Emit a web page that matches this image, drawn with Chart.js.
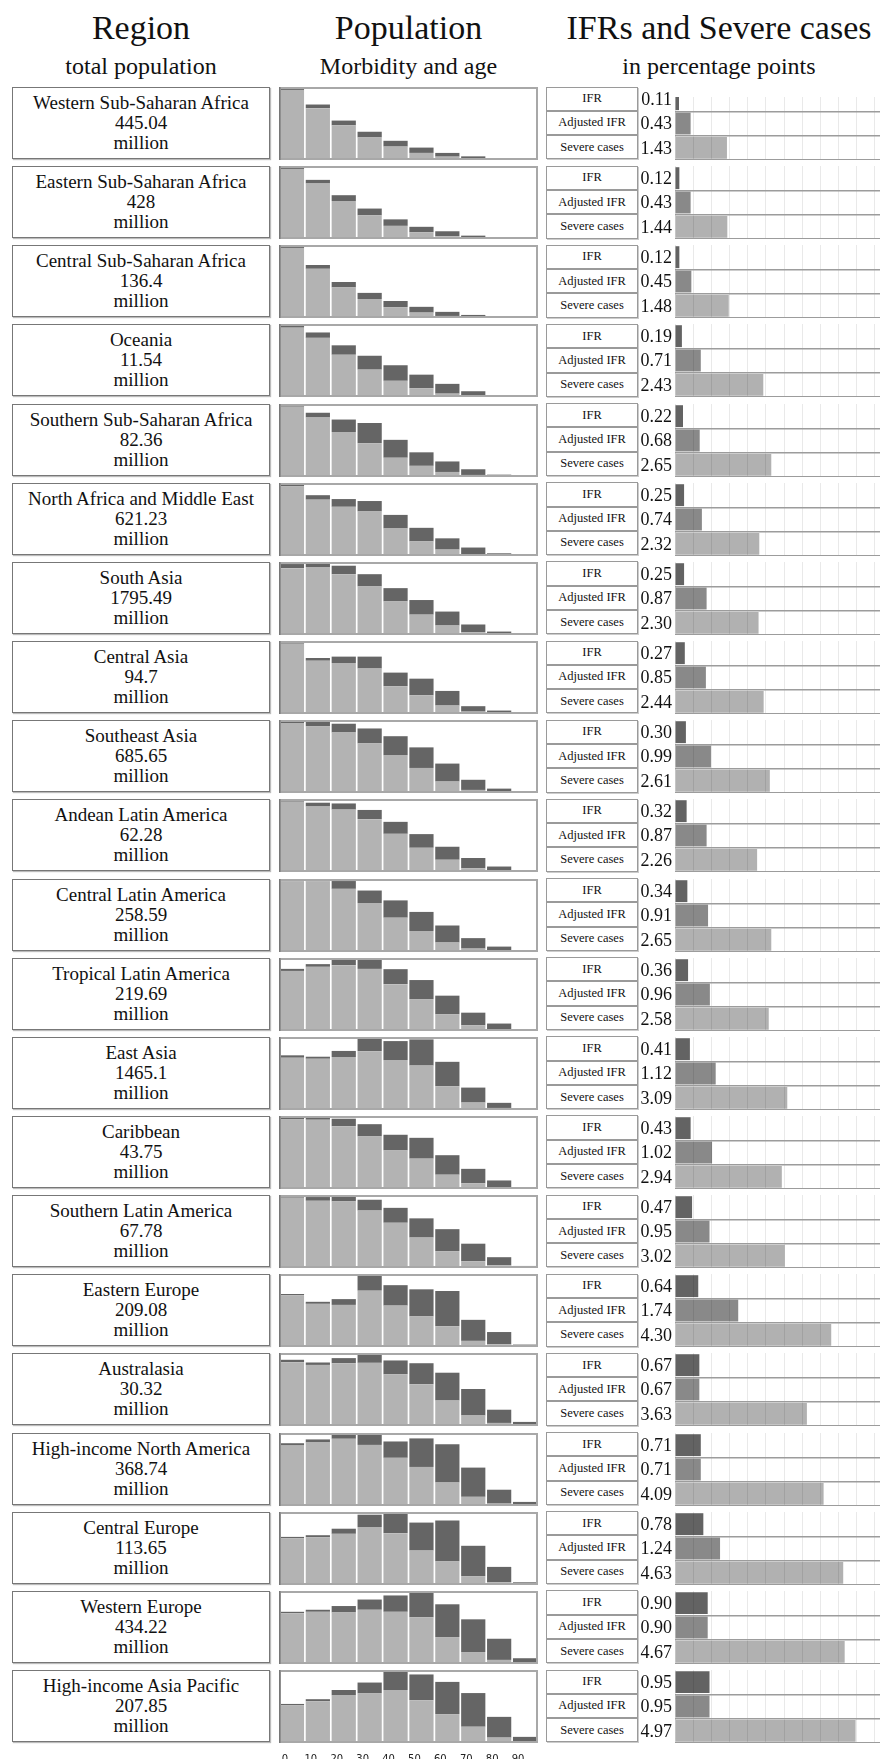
<!DOCTYPE html>
<html>
<head>
<meta charset="utf-8">
<script src="https://cdn.jsdelivr.net/npm/chart.js@4.4.1/dist/chart.umd.min.js"></script>
<style>
    html, body { margin: 0; padding: 0; background: #fff; overflow: hidden; }
    body { width: 880px; height: 1759px; position: relative; font-family: "Liberation Serif", "Times New Roman", serif; color: #111; }
    .head { position: absolute; text-align: center; white-space: nowrap; font-family: "Liberation Serif", serif; }
    .title { font-size: 34px; line-height: 40px; top: 8px; }
    .sub { font-size: 24px; line-height: 28px; top: 52px; }
    .region { position: absolute; left: 12px; width: 258px; height: 72px; box-sizing: border-box;
              border: 1px solid #777; box-shadow: 1px 1px 1px #bbb; display: flex; flex-direction: column;
              justify-content: center; align-items: center; font-size: 19px; line-height: 20px; }
    .pop, .ifr { position: absolute; }
    .labels { position: absolute; left: 546px; width: 92px; }
    .labels div { height: 24.3px; box-sizing: border-box; border: 1px solid #9a9a9a; box-shadow: 1px 1px 0 #ccc;
                  font-size: 12.5px; display: flex; align-items: center; justify-content: center; }
    .cover { position: absolute; left: 672px; top: 84px; width: 220px; height: 13px; background: #fff; z-index: 5; }
</style>
</head>
<body>
<div class="head title" style="left:12px;width:258px">Region</div>
<div class="head sub" style="left:12px;width:258px">total population</div>
<div class="head title" style="left:279px;width:259px">Population</div>
<div class="head sub" style="left:279px;width:259px">Morbidity and age</div>
<div class="head title" style="left:546px;width:346px">IFRs and Severe cases</div>
<div class="head sub" style="left:546px;width:346px">in percentage points</div>
<div class="cover"></div>
<script>
const regions = ['Western Sub-Saharan Africa', 'Eastern Sub-Saharan Africa', 'Central Sub-Saharan Africa', 'Oceania',
    'Southern Sub-Saharan Africa', 'North Africa and Middle East', 'South Asia', 'Central Asia', 'Southeast Asia',
    'Andean Latin America', 'Central Latin America', 'Tropical Latin America', 'East Asia', 'Caribbean',
    'Southern Latin America', 'Eastern Europe', 'Australasia', 'High-income North America', 'Central Europe',
    'Western Europe', 'High-income Asia Pacific'];
const totalPop = [445.04, 428, 136.4, 11.54, 82.36, 621.23, 1795.49, 94.7, 685.65, 62.28, 258.59, 219.69,
    1465.1, 43.75, 67.78, 209.08, 30.32, 368.74, 113.65, 434.22, 207.85];

const ifrLabels = ['IFR', 'Adjusted IFR', 'Severe cases'];
const ifr = [0.11, 0.12, 0.12, 0.19, 0.22, 0.25, 0.25, 0.27, 0.30, 0.32, 0.34, 0.36, 0.41, 0.43, 0.47, 0.64, 0.67, 0.71, 0.78, 0.90, 0.95];
const adjustedIfr = [0.43, 0.43, 0.45, 0.71, 0.68, 0.74, 0.87, 0.85, 0.99, 0.87, 0.91, 0.96, 1.12, 1.02, 0.95, 1.74, 0.67, 0.71, 1.24, 0.90, 0.95];
const severeCases = [1.43, 1.44, 1.48, 2.43, 2.65, 2.32, 2.30, 2.44, 2.61, 2.26, 2.65, 2.58, 3.09, 2.94, 3.02, 4.30, 3.63, 4.09, 4.63, 4.67, 4.97];

// age groups, bar heights in % of each panel's tallest bar
const ageLabels = ['0', '10', '20', '30', '40', '50', '60', '70', '80', '90'];
const healthyPop = [
    [96, 71, 47.5, 30.9, 18.4, 9.7, 4.6, 1.8, 0.5, 0.2],
    [96, 76, 52, 32.4, 18, 9.3, 3.7, 1.4, 0.9, 0.5],
    [96, 67.4, 41.9, 26, 14.9, 7.4, 2.8, 0.9, 0.5, 0.5],
    [95, 81, 57.9, 37.5, 22.2, 12, 4.6, 1.4, 0.5, 0.2],
    [96.3, 81.5, 61.6, 46.3, 26.4, 15.3, 6.9, 2.8, 0.9, 0.5],
    [95.3, 77.2, 67.4, 61, 37.7, 20, 8.8, 2.3, 0.9, 0.5],
    [91.6, 93, 83.3, 66.5, 46, 27.9, 13, 3.7, 1.4, 0.3],
    [96.3, 73, 69.8, 62.3, 38.1, 25.6, 11.6, 3.3, 1.4, 0.5],
    [95.8, 91.2, 82.9, 68, 51.9, 34.3, 15.7, 4.2, 1.4, 0.5],
    [96.3, 89.7, 85.5, 72.4, 52.3, 33.2, 16.8, 5.1, 1.9, 0.3],
    [96.7, 96.7, 86.5, 67, 47, 28.8, 13, 4.7, 1.9, 0.5],
    [82.3, 87.9, 90.2, 85.1, 64.2, 43.7, 22.8, 7.9, 2.3, 0.9],
    [71.6, 70.2, 72.6, 80.5, 68.4, 60.9, 32.6, 10.2, 2.8, 0.3],
    [95.3, 94.9, 86, 72, 52.8, 41.6, 19.6, 7.9, 2.3, 0.9],
    [96.3, 92.1, 91.2, 78.7, 62, 41.7, 23.1, 9.3, 3.7, 0.9],
    [70.7, 59.1, 57.7, 77.2, 56.7, 41.9, 28.4, 8.4, 3.7, 1.4],
    [87.4, 83.7, 86, 86.5, 70.7, 57.2, 34.9, 14.4, 4.2, 0.9],
    [82.8, 87, 92.1, 83.7, 66, 53.5, 32.1, 12.6, 3.3, 1.9],
    [64, 65.4, 70.1, 79.4, 71, 47.2, 32.7, 12.1, 3.7, 0.9],
    [69.6, 71.5, 70.6, 74.3, 71.5, 64, 36.9, 16.4, 5.6, 1.9],
    [51.6, 57.2, 65.6, 67.9, 72.6, 58.6, 39.5, 22.3, 7.4, 0.9]
];
const morbidPop = [
    [4, 5, 6.5, 7.8, 7.9, 7.3, 5.1, 3.2, 0.5, 0.3],
    [4, 5, 8, 9.3, 8.9, 7.4, 6.9, 3.2, 0.9, 0.4],
    [4, 5.2, 7.4, 8.4, 8.4, 7.9, 5.6, 3.3, 0.9, 0.4],
    [5, 7.4, 12.9, 19, 21.3, 18.6, 13.4, 6.5, 1.4, 0.3],
    [3.7, 6.5, 17.1, 27.7, 24.5, 18.5, 14.4, 7.8, 2.3, 0.4],
    [4.7, 6.1, 10.6, 14.3, 18.6, 18.6, 15.4, 9.3, 2.8, 0.4],
    [5.6, 7, 11.6, 16.8, 18.2, 20, 19.1, 10.7, 3.3, 0.2],
    [3.7, 3.7, 8.8, 16.3, 18.6, 22.8, 20, 7.4, 3.3, 0.4],
    [4.2, 6.5, 12, 20.4, 25.9, 28.2, 24.6, 13.9, 4.6, 0.4],
    [3.7, 5.2, 8.4, 12.6, 16.4, 18.7, 17.8, 14.1, 5.6, 0.2],
    [2.8, 3.3, 10.7, 17.2, 23.7, 26.1, 23.3, 14.3, 5.5, 0.4],
    [2.8, 3.7, 9.8, 14.9, 20.5, 26.1, 25.6, 17.2, 7.9, 1],
    [3.3, 2.8, 8.3, 19.5, 26, 35.8, 33.4, 20.5, 7, 0.2],
    [4.7, 5.1, 10.3, 16.8, 21.5, 28.5, 26.7, 19.7, 9.4, 1],
    [2.3, 5.1, 8.8, 14.8, 20.4, 26.3, 30.1, 24, 11.1, 1.9],
    [1.9, 2.8, 7.9, 22.8, 28, 37.1, 48.3, 28.8, 16.8, 1.9],
    [3.3, 3.3, 7, 13.5, 19.1, 28.8, 38.1, 36.3, 18.1, 4.7],
    [3.2, 4.2, 7.9, 14, 22.4, 39.1, 52.6, 40, 19, 3.7],
    [1.9, 2.8, 7, 16.9, 29, 38.3, 55.6, 41.6, 21.1, 2.8],
    [1.9, 2.8, 8.8, 14, 22.4, 36, 44.9, 44.8, 29, 6],
    [1.9, 2.8, 7, 14.9, 27.4, 35.3, 44.2, 46.1, 28.4, 7.5]
];

const ROW_TOP = 87;
const ROW_STEP = 79.15;

// grey frame around each population panel
const panelFrame = {
    id: 'panelFrame',
    afterDatasetsDraw(chart) {
        const { ctx, chartArea: a } = chart;
        ctx.save();
        ctx.strokeStyle = '#a8a8a8';
        ctx.lineWidth = 2;
        ctx.strokeRect(a.left + 1, a.top + 1, a.right - a.left - 2, a.bottom - a.top - 2);
        ctx.strokeStyle = '#777';
        ctx.lineWidth = 1.5;
        ctx.beginPath();
        ctx.moveTo(a.left + 0.75, a.top);
        ctx.lineTo(a.left + 0.75, a.bottom);
        ctx.stroke();
        ctx.restore();
    }
};

// numbers written left of the IFR bars
const valueLabels = {
    id: 'valueLabels',
    afterDatasetsDraw(chart) {
        const { ctx } = chart;
        const values = chart.data.datasets[0].data;
        ctx.save();
        ctx.font = '18px "Liberation Serif"';
        ctx.fillStyle = '#111';
        ctx.textAlign = 'right';
        ctx.textBaseline = 'middle';
        chart.getDatasetMeta(0).data.forEach((bar, j) => {
            ctx.fillText(values[j].toFixed(2), chart.chartArea.left - 3, bar.y + 1);
        });
        ctx.restore();
    }
};

function addCanvas(cls, left, top, w, h) {
    const c = document.createElement('canvas');
    c.className = cls;
    c.width = w;
    c.height = h;
    c.style.left = left + 'px';
    c.style.top = top + 'px';
    c.style.width = w + 'px';
    c.style.height = h + 'px';
    document.body.appendChild(c);
    return c.getContext('2d');
}

regions.forEach((name, i) => {
    const top = ROW_TOP + ROW_STEP * i;
    const isLast = i === regions.length - 1;

    const box = document.createElement('div');
    box.className = 'region';
    box.style.top = top + 'px';
    [name, String(totalPop[i]), 'million'].forEach(t => {
        const line = document.createElement('div');
        line.textContent = t;
        box.appendChild(line);
    });
    document.body.appendChild(box);

    const xAxis = {
        stacked: true,
        display: isLast,
        grid: { display: false },
        border: { display: false },
        ticks: { padding: 2, labelOffset: -7, maxRotation: 0, autoSkip: false, color: '#222',
                 font: { family: 'DejaVu Sans', size: 10 } }
    };
    // only the bottom panel carries the age axis
    if (isLast) xAxis.afterFit = scale => { scale.height = 20; };

    const popCtx = addCanvas('pop', 279, top, 259, isLast ? 93 : 73);
    new Chart(popCtx, {
        type: 'bar',
        data: {
            labels: ageLabels,
            datasets: [
                { data: healthyPop[i], backgroundColor: '#b3b3b3' },
                { data: morbidPop[i], backgroundColor: '#656565' }
            ]
        },
        options: {
            responsive: false,
            animation: false,
            layout: { padding: 0 },
            datasets: { bar: { barPercentage: 0.935, categoryPercentage: 1 } },
            plugins: { legend: { display: false }, tooltip: { enabled: false } },
            scales: {
                x: xAxis,
                y: { stacked: true, display: false, min: 0, max: 100 }
            }
        },
        plugins: [panelFrame]
    });

    const labels = document.createElement('div');
    labels.className = 'labels';
    labels.style.top = (top - 0.5) + 'px';
    ifrLabels.forEach(t => {
        const cell = document.createElement('div');
        cell.textContent = t;
        labels.appendChild(cell);
    });
    document.body.appendChild(labels);

    const ifrCtx = addCanvas('ifr', 638, top, 255, 73);
    new Chart(ifrCtx, {
        type: 'bar',
        data: {
            labels: ifrLabels,
            datasets: [{
                data: [ifr[i], adjustedIfr[i], severeCases[i]],
                backgroundColor: ['#636363', '#898989', '#b1b1b1'],
                barPercentage: 0.9,
                categoryPercentage: 1
            }]
        },
        options: {
            indexAxis: 'y',
            responsive: false,
            animation: false,
            layout: { padding: { left: 37, right: 0, top: 0, bottom: 0 } },
            plugins: { legend: { display: false }, tooltip: { enabled: false } },
            scales: {
                x: {
                    min: 0, max: 6,
                    ticks: { display: false, stepSize: 0.5 },
                    grid: { color: 'rgba(0,0,0,0.085)', drawTicks: false, z: 1 },
                    border: { display: false }
                },
                y: {
                    ticks: { display: false },
                    grid: {
                        offset: true, drawTicks: false, lineWidth: 1.5, z: 1,
                        color: c => c.index === 0 ? 'rgba(0,0,0,0)' : '#9c9c9c'
                    },
                    border: { display: false }
                }
            }
        },
        plugins: [valueLabels]
    });
});
</script>
</body>
</html>
